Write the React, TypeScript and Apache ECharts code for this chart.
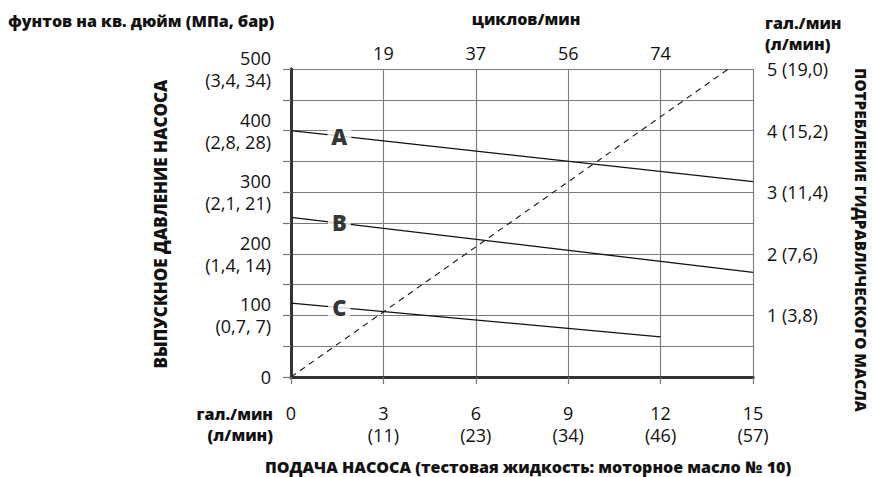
import React, { useEffect, useRef } from "react";
import * as echarts from "echarts";

// Bottom axis: pump flow, gal/min with (l/min)
const flowTicks = [0, 3, 6, 9, 12, 15];
const flowLitres = ["", "11", "23", "34", "46", "57"];
// Top axis: cycles/min at the same positions
const cycleLabels = ["", "19", "37", "56", "74", ""];
// Left axis: psi with (MPa, bar)
const pressureTicks = [0, 100, 200, 300, 400, 500];
const pressureMetric = ["", "0,7, 7", "1,4, 14", "2,1, 21", "2,8, 28", "3,4, 34"];
// Right axis: hydraulic oil consumption gal/min (l/min)
const oilGpm = [1, 2, 3, 4, 5];
const oilLpm = ["3,8", "7,6", "11,4", "15,2", "19,0"];

// Curves (flow gal/min, pressure psi)
const curveA = [[0, 400], [15, 317]];
const curveB = [[0, 259], [15, 170]];
const curveC = [[0, 120], [12, 65]];
// Dashed oil consumption line (flow, psi-equivalent scale)
const oilLine = [[0, 0], [14.2, 500]];
// Curve letter labels placed on the curves
const curveLabels = [
  { name: "A", value: [1.57, 392] },
  { name: "B", value: [1.57, 251] },
  { name: "C", value: [1.57, 113] },
];

const FONT = "'Open Sans', sans-serif";
const TXT = "#111";
const BOLD = `800 16px ${FONT}`;

export default function App() {
  const ref = useRef<HTMLDivElement>(null);
  useEffect(() => {
    document.body.style.margin = "0";
    const chart = echarts.init(ref.current!, null, { renderer: "svg" });
    const grid = { left: 291, top: 69, width: 462, height: 308 };
    const option: any = {
      animation: false,
      textStyle: { fontFamily: FONT },
      grid,
      xAxis: [
        {
          type: "value",
          position: "bottom",
          min: 0,
          max: 15,
          interval: 3,
          axisLine: { lineStyle: { color: "#333", width: 3 } },
          axisTick: { show: true, length: 7, lineStyle: { color: "#777", width: 1.2 } },
          splitLine: { show: true, lineStyle: { color: "#7a7a7a", width: 1.1 } },
          axisLabel: {
            margin: 25,
            fontSize: 18,
            lineHeight: 22,
            color: TXT,
            fontFamily: FONT,
            formatter: (v: number) => {
              const i = flowTicks.indexOf(v);
              if (i < 0) return "";
              return flowLitres[i] ? `${v}\n(${flowLitres[i]})` : `${v}`;
            },
          },
        },
        {
          type: "value",
          position: "top",
          min: 0,
          max: 15,
          interval: 3,
          axisLine: { show: true, lineStyle: { color: "#333", width: 3 } },
          axisTick: { show: false },
          splitLine: { show: false },
          axisLabel: {
            margin: 7,
            fontSize: 18,
            color: TXT,
            fontFamily: FONT,
            formatter: (v: number) => {
              const i = flowTicks.indexOf(v);
              return i < 0 ? "" : cycleLabels[i];
            },
          },
        },
      ],
      yAxis: [
        {
          type: "value",
          position: "left",
          min: 0,
          max: 500,
          interval: 50,
          axisLine: { show: true, lineStyle: { color: "#333", width: 3 } },
          axisTick: { show: true, length: 8, lineStyle: { color: "#777", width: 1.2 } },
          splitLine: { show: true, lineStyle: { color: "#7a7a7a", width: 1.1 } },
          axisLabel: {
            margin: 20,
            fontSize: 18,
            lineHeight: 22,
            color: TXT,
            fontFamily: FONT,
            align: "right",
            formatter: (v: number) => {
              const i = pressureTicks.indexOf(v);
              if (i < 0) return "";
              return pressureMetric[i] ? `${v}\n(${pressureMetric[i]})` : `${v}`;
            },
          },
        },
        {
          type: "value",
          position: "right",
          min: 0,
          max: 5,
          interval: 1,
          axisLine: { show: true, lineStyle: { color: "#333", width: 3 } },
          axisTick: { show: false },
          splitLine: { show: false },
          axisLabel: {
            margin: 14,
            fontSize: 18,
            color: TXT,
            fontFamily: FONT,
            padding: [5, 0, 0, 0],
            formatter: (v: number) => {
              const i = oilGpm.indexOf(v);
              return i < 0 ? "" : `${v} (${oilLpm[i]})`;
            },
          },
        },
      ],
      series: [
        {
          type: "line",
          data: curveA,
          showSymbol: false,
          lineStyle: { color: "#111", width: 1.3 },
          z: 3,
        },
        {
          type: "line",
          data: curveB,
          showSymbol: false,
          lineStyle: { color: "#111", width: 1.3 },
          z: 3,
        },
        {
          type: "line",
          data: curveC,
          showSymbol: false,
          lineStyle: { color: "#111", width: 1.3 },
          z: 3,
        },
        {
          type: "line",
          data: oilLine,
          showSymbol: false,
          lineStyle: { color: "#222", width: 1.2, type: [6, 5] },
          z: 3,
        },
        {
          type: "scatter",
          data: curveLabels,
          symbolSize: 1,
          itemStyle: { color: "rgba(0,0,0,0)" },
          z: 5,
          label: {
            show: true,
            position: "inside",
            formatter: (p: any) => p.name,
            fontSize: 22,
            fontWeight: 800,
            fontFamily: FONT,
            color: "#000",
            backgroundColor: "#fff",
            padding: [0, 4, 0, 4],
          },
        },
      ],
      graphic: [
        {
          type: "text",
          left: 8,
          top: 13,
          style: {
            text: "фунтов на кв. дюйм (МПа, бар)",
            font: BOLD,
            fill: TXT,
          },
        },
        {
          type: "text",
          x: 526,
          y: 19,
          style: {
            text: "циклов/мин",
            font: BOLD,
            fill: TXT,
            textAlign: "center",
            textVerticalAlign: "middle",
          },
        },
        {
          type: "text",
          x: 765,
          y: 12,
          style: {
            text: "гал./мин\n(л/мин)",
            font: BOLD,
            lineHeight: 21,
            fill: TXT,
            textAlign: "left",
            textVerticalAlign: "top",
          },
        },
        {
          type: "text",
          x: 273,
          y: 403,
          style: {
            text: "гал./мин\n(л/мин)",
            font: BOLD,
            lineHeight: 21,
            fill: TXT,
            textAlign: "right",
            textVerticalAlign: "top",
          },
        },
        {
          type: "text",
          x: 528,
          y: 467,
          style: {
            text: "ПОДАЧА НАСОСА (тестовая жидкость: моторное масло № 10)",
            font: BOLD,
            fill: TXT,
            textAlign: "center",
            textVerticalAlign: "middle",
          },
        },
        {
          type: "text",
          x: 160,
          y: 224,
          rotation: Math.PI / 2,
          style: {
            text: "ВЫПУСКНОЕ ДАВЛЕНИЕ НАСОСА",
            font: `800 17px ${FONT}`,
            fill: TXT,
            textAlign: "center",
            textVerticalAlign: "middle",
          },
        },
        {
          type: "text",
          x: 861,
          y: 240,
          rotation: -Math.PI / 2,
          style: {
            text: "ПОТРЕБЛЕНИЕ ГИДРАВЛИЧЕСКОГО МАСЛА",
            font: `800 15.3px ${FONT}`,
            fill: TXT,
            textAlign: "center",
            textVerticalAlign: "middle",
          },
        },
      ],
    };
    chart.setOption(option);
    return () => chart.dispose();
  }, []);
  return <div ref={ref} style={{ width: 872, height: 477 }} />;
}
